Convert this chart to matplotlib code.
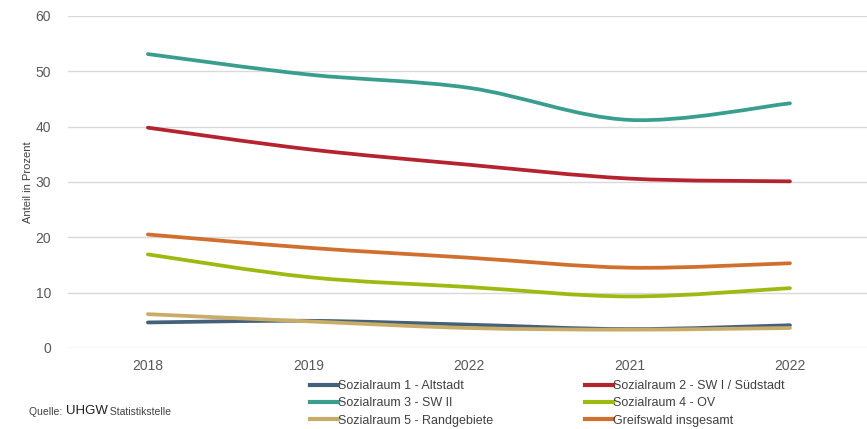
import numpy as np
import matplotlib.pyplot as plt
from matplotlib.path import Path
from matplotlib.patches import PathPatch
from matplotlib.lines import Line2D

plt.rcParams['font.family'] = ['Liberation Sans', 'DejaVu Sans']

years = ['2018', '2019', '2022', '2021', '2022']
labels = ['Sozialraum 1 - Altstadt', 'Sozialraum 2 - SW I / Südstadt',
          'Sozialraum 3 - SW II', 'Sozialraum 4 - OV',
          'Sozialraum 5 - Randgebiete', 'Greifswald insgesamt']
sr1 = [4.6, 4.9, 4.2, 3.4, 4.1]
sr2 = [39.8, 35.9, 33.1, 30.6, 30.1]
sr3 = [53.1, 49.4, 47.0, 41.2, 44.2]
sr4 = [16.9, 12.8, 11.0, 9.3, 10.8]
sr5 = [6.1, 4.8, 3.6, 3.3, 3.6]
gw = [20.5, 18.1, 16.3, 14.5, 15.3]
series = [sr1, sr2, sr3, sr4, sr5, gw]
colors = ['#44607a', '#b5232f', '#3a9e8f', '#9cba10', '#c9ac68', '#d06f2e']


def smooth_path(x, y, t=1 / 6):
    # catmull-rom segments as cubic bezier
    x = np.asarray(x, float)
    y = np.asarray(y, float)
    pts = np.column_stack([x, y])
    verts = [pts[0]]
    codes = [Path.MOVETO]
    n = len(pts)
    for i in range(n - 1):
        p0 = pts[max(i - 1, 0)]
        p1 = pts[i]
        p2 = pts[i + 1]
        p3 = pts[min(i + 2, n - 1)]
        c1 = p1 + (p2 - p0) * t
        c2 = p2 - (p3 - p1) * t
        verts += [c1, c2, p2]
        codes += [Path.CURVE4] * 3
    return Path(verts, codes)


fig = plt.figure(figsize=(8.67, 4.29), dpi=100)
ax = fig.add_axes([0.078, 0.189, 0.922, 0.774])
x = np.arange(len(years))
for vals, c in zip(series, colors):
    patch = PathPatch(smooth_path(x, vals), facecolor='none', edgecolor=c,
                      lw=2.7, capstyle='round', zorder=3)
    ax.add_patch(patch)

ax.set_xlim(-0.5, 4.48)
ax.set_ylim(0, 60)
ax.set_yticks(range(0, 61, 10))
ax.set_xticks(x)
ax.set_xticklabels(years)
ax.grid(axis='y', color='#d9d9d9', lw=1)
ax.set_axisbelow(True)
for s in ax.spines.values():
    s.set_visible(False)
ax.tick_params(length=0, colors='#595959', labelsize=10)
ax.tick_params(axis='y', pad=12)
ax.tick_params(axis='x', pad=8)
ax.set_ylabel('Anteil in Prozent', fontsize=8, color='#404040', labelpad=2)

# legend filled row by row like the original
order = [0, 2, 4, 1, 3, 5]
handles = [Line2D([], [], color=colors[i], lw=3) for i in order]
fig.legend(handles, [labels[i] for i in order], ncol=2, loc='upper left',
           bbox_to_anchor=(0.345, 0.14), frameon=False, fontsize=9,
           handlelength=2.2, handletextpad=0.0, columnspacing=7.4,
           labelspacing=0.42, labelcolor='#404040')

t1 = fig.text(0.034, 0.033, 'Quelle: ', fontsize=7.5, color='#404040', va='baseline')
t2 = ax.annotate('UHGW', xy=(1, 0), xycoords=t1, fontsize=9.5, color='#202020',
                 va='bottom', ha='left')
ax.annotate(' Statistikstelle', xy=(1, 0), xycoords=t2, fontsize=7.5,
            color='#404040', va='bottom', ha='left')

fig.savefig('out.png', dpi=100)
